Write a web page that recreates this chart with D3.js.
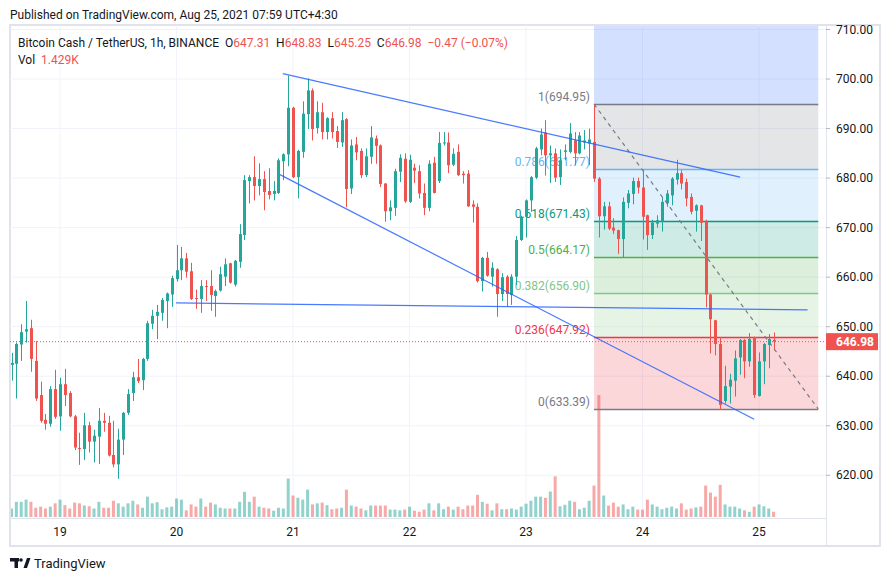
<!DOCTYPE html>
<html>
<head>
<meta charset="utf-8">
<script src="https://cdn.jsdelivr.net/npm/d3@7"></script>
<style>
  body { margin: 0; background: #fff; }
  svg { font-family: Roboto, 'Noto Sans', sans-serif; }
</style>
</head>
<body>
<div id="chart"></div>
<script>
// hourly candles, first one is Aug 18 14:00 UTC
let startTime = Date.UTC(2021, 7, 18, 14)

let opens = [642.3,642.5,646.4,649.0,649.7,643.1,636.2,631.2,630.4,637.4,
  631.9,638.4,636.6,631.9,625.5,625.3,630.1,626.8,627.8,631.0,
  630.6,624.1,622.2,627.2,632.6,636.6,639.8,639.2,643.5,650.6,
  652.2,652.8,655.2,656.5,659.6,661.4,663.8,661.2,655.8,655.6,
  658.2,658.2,656.2,657.3,660.1,662.8,658.5,663.1,668.5,679.4,
  680.2,678.4,679.8,677.4,676.8,677.0,683.4,684.8,694.2,680.2,
  685.3,692.9,697.7,690.1,693.3,689.3,692.1,689.5,687.2,691.9,
  677.9,686.8,685.5,680.6,684.3,688.0,686.6,678.9,673.3,674.0,
  681.3,683.9,675.2,682.1,681.4,677.0,674.0,683.1,679.4,687.0,
  687.2,682.7,685.3,680.9,680.9,674.7,674.2,659.2,663.9,660.1,
  661.6,656.6,660.1,656.4,660.1,667.5,672.2,675.5,680.1,685.8,
  689.2,684.6,685.0,680.2,685.3,685.3,687.6,685.0,687.2,687.0,
  687.3,679.9,672.3,674.3,670.0,669.5,667.7,675.0,676.8,679.4,
  678.1,672.5,668.5,670.8,671.2,674.9,676.5,679.7,681.0,679.2,
  676.2,673.4,674.5,671.2,656.5,651.3,646.5,635.0,637.9,639.1,
  643.8,647.3,643.0,647.9,636.0,643.0,646.3,647.31]

let highs = [644.7,646.8,650.5,655.2,651.4,647.1,638.9,632.4,638.0,641.3,
  639.7,641.5,637.0,632.2,628.6,632.6,630.8,629.2,633.6,632.6,
  632.0,631.0,629.4,632.8,637.4,640.9,643.5,643.7,651.2,653.4,
  654.4,655.8,656.9,660.3,666.5,666.1,664.9,662.9,657.5,659.4,
  659.4,661.4,657.5,662.1,663.8,662.9,663.5,670.7,680.6,680.6,
  684.4,683.0,681.4,682.0,679.4,684.0,685.0,700.7,694.4,685.7,
  695.5,700.1,698.1,695.5,695.2,692.3,693.3,690.5,693.3,692.1,
  687.8,688.3,686.0,686.0,690.5,688.6,686.8,679.0,675.5,681.9,
  684.8,685.0,684.7,682.9,682.6,678.9,683.6,684.3,689.3,689.3,
  689.2,686.0,686.8,681.4,681.6,675.5,674.9,664.1,665.1,663.0,
  661.8,660.8,660.4,660.6,668.3,672.4,675.7,680.4,686.3,690.0,
  691.7,686.6,686.0,685.8,686.8,691.1,689.3,689.3,689.7,690.0,
  694.95,680.2,675.2,675.2,671.9,669.6,676.1,677.6,680.1,680.1,
  681.7,672.6,671.6,672.5,676.2,677.6,680.2,683.7,681.6,679.9,
  676.9,674.7,674.6,671.6,656.6,651.4,647.9,642.1,640.5,645.2,
  647.5,647.5,648.7,648.0,644.8,646.7,648.5,648.83]

let lows = [639.1,635.5,643.1,646.8,640.9,635.0,630.6,629.2,629.8,631.4,
  629.0,634.0,631.7,625.1,622.1,623.1,624.6,622.6,622.3,628.8,
  623.8,621.6,619.3,624.1,632.2,635.0,638.6,637.2,643.1,649.5,
  647.5,651.2,649.7,654.0,659.1,659.4,659.9,655.4,653.6,652.8,
  655.2,653.2,652.0,657.1,658.2,658.7,658.1,661.9,667.5,674.9,
  675.5,676.5,673.5,675.7,675.5,676.8,679.6,682.4,680.0,675.9,
  684.1,689.9,687.6,689.0,687.8,687.8,688.0,686.1,686.3,674.1,
  676.8,683.6,680.0,680.2,682.9,682.9,678.2,671.2,671.5,672.4,
  679.2,675.0,675.0,679.0,675.9,672.5,673.3,676.9,679.0,686.6,
  681.0,682.4,680.4,678.9,674.2,671.0,658.9,657.1,660.1,658.1,
  652.0,655.2,654.0,654.4,658.4,667.3,668.0,673.2,679.8,684.6,
  680.5,679.0,679.2,678.6,683.6,685.0,682.6,684.8,685.8,682.6,
  679.2,668.0,669.6,669.5,668.7,664.7,664.0,673.9,674.7,676.9,
  667.6,665.5,667.7,670.0,669.2,674.2,674.5,678.7,677.7,674.3,
  672.7,669.2,667.3,653.9,644.6,644.2,633.2,634.5,634.5,635.9,
  640.3,639.6,641.9,635.6,635.9,638.4,641.6,645.25]

let closes = [642.7,646.5,648.9,649.5,643.5,635.5,631.0,630.4,637.4,631.8,
  638.4,636.2,631.9,625.6,625.3,630.1,626.8,628.0,631.0,630.6,
  624.0,622.2,627.2,632.6,636.4,639.8,639.0,643.5,650.7,652.2,
  653.0,655.4,656.7,659.8,661.4,663.8,661.1,655.6,655.6,658.2,
  658.1,656.4,657.2,660.6,662.6,658.9,663.3,668.7,679.6,680.2,
  678.4,679.8,677.2,676.6,677.4,683.6,684.8,694.2,680.2,685.5,
  693.0,697.7,689.9,693.3,689.3,692.1,689.3,687.3,691.7,677.8,
  686.6,685.2,680.6,684.4,688.2,686.5,678.8,673.3,674.1,681.4,
  684.1,675.3,683.7,681.5,676.9,674.0,682.9,677.0,687.1,687.2,
  682.6,684.9,680.6,680.6,674.3,674.2,659.2,663.9,660.3,661.9,
  656.6,660.0,656.6,660.1,667.5,672.2,675.5,680.2,686.0,688.8,
  684.6,685.0,680.1,683.6,685.6,689.0,685.0,688.6,687.6,687.8,
  679.9,672.3,674.3,669.8,669.4,667.7,675.2,676.9,679.4,678.1,
  672.2,668.5,671.0,671.5,675.2,676.9,679.9,681.0,678.9,675.9,
  673.2,674.5,671.0,656.5,651.5,646.5,634.2,638.0,639.3,643.6,
  647.3,643.0,647.5,636.2,643.0,646.5,647.5,646.98]

// volume in thousands
let volumes = [2.3,4.1,4.1,4.7,4.1,2.5,2.8,2.3,2.8,3.7,
  4.7,3.2,2.3,3.9,3.7,3.1,2.9,2.3,4.1,2.5,
  2.5,4.4,3.7,2.8,3.7,4.4,3.4,2.5,5.5,3.7,
  4.0,2.1,2.6,2.8,5.0,4.7,1.8,3.4,2.8,5.0,
  2.8,3.9,3.4,2.5,2.3,2.3,2.3,4.1,6.8,4.1,
  5.5,2.8,2.5,2.3,1.7,2.5,2.3,10.4,5.8,5.2,
  4.7,7.4,3.4,3.7,3.9,3.2,2.1,2.3,2.5,7.4,
  3.1,2.8,2.3,1.8,3.1,3.1,3.1,3.1,2.0,2.0,
  1.8,2.0,2.8,1.7,1.4,2.0,3.7,1.8,3.7,2.1,
  2.8,2.0,2.8,2.1,3.1,3.1,6.0,4.1,3.6,1.8,
  3.7,2.1,2.1,2.3,2.0,2.8,3.6,4.4,5.5,5.5,
  5.2,6.9,11.0,2.9,3.3,4.4,4.1,2.1,2.5,4.4,
  8.5,33.0,5.8,3.1,3.9,2.8,3.4,2.1,2.8,2.0,
  2.0,4.7,3.4,2.8,2.1,2.5,2.8,2.3,3.7,2.0,
  2.3,2.6,2.8,8.5,6.6,5.5,8.7,3.4,2.8,2.8,
  2.3,1.8,1.4,2.8,3.4,2.9,2.3,1.429]

let priceTicks = [620, 630, 640, 650, 660, 670, 680, 690, 700, 710]
let dayTicks = [19, 20, 21, 22, 23, 24, 25]

// fibonacci retracement, drawn from the 694.95 top to the 633.39 low
let fibLevels = ['1', '0.786', '0.618', '0.5', '0.382', '0.236', '0']
let fibPrices = [694.95, 681.77, 671.43, 664.17, 656.90, 647.92, 633.39]
let fibColors = ['#787b86', '#64b5f6', '#089981', '#4caf50', '#81c784', '#f23645', '#787b86']
let fibTopPrice = 733.0
let fibTopColor = '#2962ff'
let fibStartHour = 120
let fibEndHour = 166.2

// trend lines as [hour offset, price]
let upperLine = [[55.9, 701.1], [150.1, 680.2]]
let lowerLine = [[55.3, 680.7], [153.0, 631.3]]
let flatLine = [[33.9, 654.8], [164.0, 653.4]]

let lastPrice = 646.98

let green = '#26a69a'
let red = '#ef5350'

let hourToDate = (h) => new Date(startTime + h * 3600e3)

let svg = d3.select('#chart')
  .append('svg')
    .attr('width', 892)
    .attr('height', 581)

let x = d3.scaleUtc()
  .domain([hourToDate(0), hourToDate(opens.length - 1)])
  .range([11.5, 773.6])

let y = d3.scaleLinear()
  .domain([620, 710])
  .range([475.3, 29.5])

let yVol = d3.scaleLinear()
  .domain([0, 33])
  .range([517, 395])

let plotLeft = 10, plotRight = 826, plotTop = 25, plotBottom = 518

svg.append('defs').append('clipPath')
    .attr('id', 'plot')
  .append('rect')
    .attr('x', plotLeft + 1)
    .attr('y', plotTop + 1)
    .attr('width', plotRight - plotLeft - 1)
    .attr('height', plotBottom - plotTop - 1)

// header
svg.append('text')
  .attr('x', 10)
  .attr('y', 19)
  .attr('font-size', 12)
  .attr('fill', '#131722')
  .text('Published on TradingView.com, Aug 25, 2021 07:59 UTC+4:30')

// frame
svg.append('rect')
  .attr('x', plotLeft)
  .attr('y', plotTop)
  .attr('width', 870)
  .attr('height', 521)
  .attr('fill', 'none')
  .attr('stroke', '#e0e3eb')
  .attr('stroke-width', 2)

// grid
svg.selectAll('.hgrid')
  .data(priceTicks)
  .enter()
  .append('line')
    .attr('x1', plotLeft)
    .attr('x2', plotRight)
    .attr('y1', (d) => y(d))
    .attr('y2', (d) => y(d))
    .attr('stroke', '#f0f3fa')

svg.selectAll('.vgrid')
  .data(dayTicks)
  .enter()
  .append('line')
    .attr('x1', (d) => x(new Date(Date.UTC(2021, 7, d))))
    .attr('x2', (d) => x(new Date(Date.UTC(2021, 7, d))))
    .attr('y1', plotTop)
    .attr('y2', plotBottom)
    .attr('stroke', '#f0f3fa')

let plot = svg.append('g').attr('clip-path', 'url(#plot)')

// volume
plot.selectAll('.vol')
  .data(volumes)
  .enter()
  .append('rect')
    .attr('x', (d, i) => x(hourToDate(i)) - 1.5)
    .attr('y', (d) => yVol(d))
    .attr('width', 3)
    .attr('height', (d) => yVol(0) - yVol(d))
    .attr('fill', (d, i) => closes[i] >= opens[i] ? green : red)
    .attr('opacity', 0.5)

// fib bands, each band takes the colour of its upper level
let fx1 = x(hourToDate(fibStartHour))
let fx2 = x(hourToDate(fibEndHour))

plot.append('rect')
  .attr('x', fx1)
  .attr('y', y(fibTopPrice))
  .attr('width', fx2 - fx1)
  .attr('height', y(fibPrices[0]) - y(fibTopPrice))
  .attr('fill', fibTopColor)
  .attr('opacity', 0.2)

fibPrices.slice(0, -1).forEach((p, i) => {
  plot.append('rect')
    .attr('x', fx1)
    .attr('y', y(p))
    .attr('width', fx2 - fx1)
    .attr('height', y(fibPrices[i + 1]) - y(p))
    .attr('fill', fibColors[i])
    .attr('opacity', 0.2)
})

plot.selectAll('.fibline')
  .data(fibPrices)
  .enter()
  .append('line')
    .attr('x1', fx1)
    .attr('x2', fx2)
    .attr('y1', (d) => Math.round(y(d)) + 0.5)
    .attr('y2', (d) => Math.round(y(d)) + 0.5)
    .attr('stroke', (d, i) => fibColors[i])
    .attr('stroke-width', 1.3)

plot.selectAll('.fiblabel')
  .data(fibPrices)
  .enter()
  .append('text')
    .attr('x', fx1 - 4)
    .attr('y', (d) => y(d) - 3)
    .attr('text-anchor', 'end')
    .attr('font-size', 12)
    .attr('fill', (d, i) => fibColors[i])
    .text((d, i) => fibLevels[i] + '(' + d.toFixed(2) + ')')

// candles
let candles = plot.selectAll('.candle')
  .data(opens)
  .enter()
  .append('g')

candles.append('line')
  .attr('x1', (d, i) => Math.round(x(hourToDate(i))) + 0.5)
  .attr('x2', (d, i) => Math.round(x(hourToDate(i))) + 0.5)
  .attr('y1', (d, i) => y(highs[i]))
  .attr('y2', (d, i) => y(lows[i]))
  .attr('stroke', (d, i) => closes[i] >= opens[i] ? green : red)

candles.append('rect')
  .attr('x', (d, i) => Math.round(x(hourToDate(i))) - 1)
  .attr('y', (d, i) => y(Math.max(opens[i], closes[i])))
  .attr('width', 3)
  .attr('height', (d, i) => Math.max(1, Math.abs(y(opens[i]) - y(closes[i]))))
  .attr('fill', (d, i) => closes[i] >= opens[i] ? green : red)

// drawings
let line = d3.line()
  .x((d) => x(hourToDate(d[0])))
  .y((d) => y(d[1]))

plot.append('path')
  .attr('d', line([[fibStartHour, fibPrices[0]], [fibEndHour, fibPrices[6]]]))
  .attr('stroke', '#787b86')
  .attr('stroke-width', 1.2)
  .attr('stroke-dasharray', '4,4')
  .attr('fill', 'none')

let trendLines = [upperLine, lowerLine, flatLine]

plot.selectAll('.trend')
  .data(trendLines)
  .enter()
  .append('path')
    .attr('d', (d) => line(d))
    .attr('stroke', '#2962ff')
    .attr('stroke-width', 1.2)
    .attr('opacity', 0.85)
    .attr('fill', 'none')

// last price line
svg.append('line')
  .attr('x1', plotLeft)
  .attr('x2', plotRight)
  .attr('y1', y(lastPrice))
  .attr('y2', y(lastPrice))
  .attr('stroke', red)
  .attr('stroke-dasharray', '1,2')

// axes borders
svg.append('line')
  .attr('x1', plotRight + 0.5)
  .attr('x2', plotRight + 0.5)
  .attr('y1', plotTop)
  .attr('y2', 546)
  .attr('stroke', '#e0e3eb')

svg.append('line')
  .attr('x1', plotLeft)
  .attr('x2', plotRight)
  .attr('y1', plotBottom + 0.5)
  .attr('y2', plotBottom + 0.5)
  .attr('stroke', '#e0e3eb')

// price axis
svg.selectAll('.ptick')
  .data(priceTicks)
  .enter()
  .append('line')
    .attr('x1', plotRight)
    .attr('x2', plotRight + 4)
    .attr('y1', (d) => y(d))
    .attr('y2', (d) => y(d))
    .attr('stroke', '#b2b5be')

svg.selectAll('.plabel')
  .data(priceTicks)
  .enter()
  .append('text')
    .attr('x', 836)
    .attr('y', (d) => y(d) + 4)
    .attr('font-size', 12)
    .attr('fill', '#131722')
    .text((d) => d.toFixed(2))

svg.append('rect')
  .attr('x', plotRight)
  .attr('y', y(lastPrice) - 8.5)
  .attr('width', 52)
  .attr('height', 17)
  .attr('fill', red)

svg.append('text')
  .attr('x', 836)
  .attr('y', y(lastPrice) + 4.5)
  .attr('font-size', 12)
  .attr('font-weight', 'bold')
  .attr('fill', '#fff')
  .text(lastPrice.toFixed(2))

// time axis
svg.selectAll('.dlabel')
  .data(dayTicks)
  .enter()
  .append('text')
    .attr('x', (d) => x(new Date(Date.UTC(2021, 7, d))))
    .attr('y', 536)
    .attr('text-anchor', 'middle')
    .attr('font-size', 12)
    .attr('fill', '#131722')
    .text((d) => d)

// legend
let legend = svg.append('text')
  .attr('x', 18)
  .attr('y', 47)
  .attr('font-size', 12)
  .attr('fill', '#131722')
  .attr('xml:space', 'preserve')

let legendParts = [
  ['Bitcoin Cash / TetherUS, 1h, BINANCE  O', '#131722'],
  ['647.31', red], ['  H', '#131722'], ['648.83', red],
  ['  L', '#131722'], ['645.25', red], ['  C', '#131722'], ['646.98', red],
  ['  \u22120.47 (\u22120.07%)', red]
]

legendParts.forEach((p) => {
  legend.append('tspan').attr('fill', p[1]).text(p[0])
})

let vol = svg.append('text')
  .attr('x', 18)
  .attr('y', 64)
  .attr('font-size', 12)
  .attr('fill', '#131722')
  .attr('xml:space', 'preserve')

vol.append('tspan').text('Vol  ')
vol.append('tspan').attr('fill', red).text('1.429K')

// footer logo
let logo = svg.append('g').attr('fill', '#131722')
logo.append('rect').attr('x', 10).attr('y', 558).attr('width', 9).attr('height', 3.5)
logo.append('rect').attr('x', 14.5).attr('y', 558).attr('width', 3.5).attr('height', 10)
logo.append('circle').attr('cx', 21).attr('cy', 560).attr('r', 1.8)
logo.append('path').attr('d', 'M23.5,568 L27,558 L30.5,558 L27,568 Z')

svg.append('text')
  .attr('x', 34)
  .attr('y', 568)
  .attr('font-size', 13)
  .attr('fill', '#131722')
  .text('TradingView')
</script>
</body>
</html>
